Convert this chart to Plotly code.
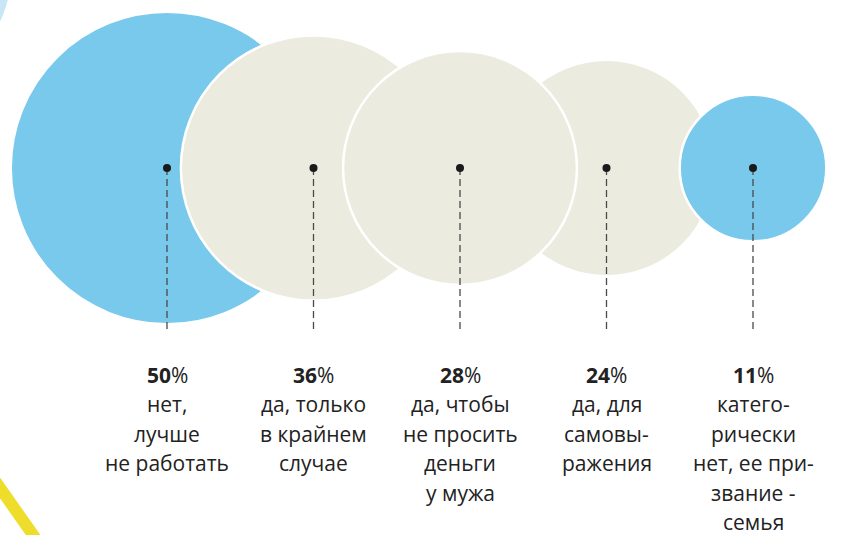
import plotly.graph_objects as go
import math

# ---- data ----
values = [50, 36, 28, 24, 11]
colors = ["#78C9EC", "#ECEBE0", "#ECEBE0", "#ECEBE0", "#78C9EC"]
labels = [
    ["нет,", "лучше", "не работать"],
    ["да, только", "в крайнем", "случае"],
    ["да, чтобы", "не просить", "деньги", "у мужа"],
    ["да, для", "самовы-", "ражения"],
    ["катего-", "рически", "нет, ее при-", "звание -", "семья"],
]
draw_order = [0, 1, 3, 4, 2]

W, H = 843, 535
X0, DX = 167, 146.5
CY = 168
PX_PER_SQRT = 22.1
LINE_END = 330
PCT_Y = 374.5
LINE_STEP = 29.5


def px(xp):
    """pixel x -> data x"""
    return (xp - X0) / DX


fig = go.Figure()

# decorative background arcs
fig.add_shape(type="circle", xref="x", yref="y",
              x0=px(-170), x1=px(10), y0=-110, y1=70,
              fillcolor="#C8E6F6", line=dict(width=0), layer="below")
fig.add_shape(type="line", xref="x", yref="y",
              x0=px(-20), x1=px(50), y0=459.5, y1=559,
              line=dict(color="#EEDD2A", width=12), layer="below")

for i in draw_order:
    v = values[i]
    d = 2 * PX_PER_SQRT * math.sqrt(v)
    fig.add_trace(go.Scatter(
        x=[i], y=[CY], mode="markers",
        marker=dict(size=d, color=colors[i], line=dict(color="white", width=2.5)),
        hoverinfo="skip", showlegend=False))

for i in range(len(values)):
    fig.add_trace(go.Scatter(
        x=[i, i], y=[CY, LINE_END], mode="lines",
        line=dict(color="#4a4a4a", width=1.3, dash="7px,4px"),
        hoverinfo="skip", showlegend=False))

fig.add_trace(go.Scatter(
    x=list(range(len(values))), y=[CY] * len(values), mode="markers",
    marker=dict(size=8, color="#1a1a1a"), hoverinfo="skip", showlegend=False))

FONT = "Open Sans"
FS = 21
for i, v in enumerate(values):
    fig.add_annotation(x=i, y=PCT_Y, text=f"<b>{v}</b>%", showarrow=False,
                       font=dict(family=FONT, size=FS, color="#222222"),
                       xanchor="center", yanchor="middle", borderpad=0)
    for k, line in enumerate(labels[i]):
        fig.add_annotation(x=i, y=PCT_Y + LINE_STEP * (k + 1), text=line, showarrow=False,
                           font=dict(family=FONT, size=FS, color="#222222"),
                           xanchor="center", yanchor="middle", borderpad=0)

fig.update_layout(
    width=W, height=H,
    margin=dict(l=0, r=0, t=0, b=0),
    paper_bgcolor="white", plot_bgcolor="white",
    xaxis=dict(range=[px(0), px(W)], visible=False, fixedrange=True),
    yaxis=dict(range=[H, 0], visible=False, fixedrange=True),
)

fig.write_html("out.html", config={"displayModeBar": False},
               post_script="document.body.style.margin='0';document.body.style.overflow='hidden';")
